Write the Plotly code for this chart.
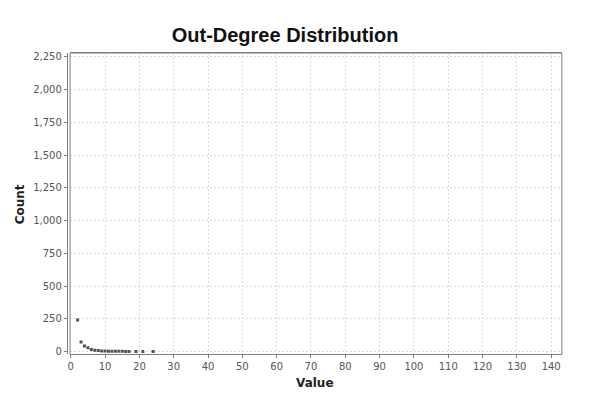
import plotly.graph_objects as go

# Out-degree distribution: node count for each out-degree value
degree = [2, 3, 4, 5, 6, 7, 8, 9, 10, 11, 12, 13, 14, 15, 16, 17, 19, 21, 24]
count = [241, 72, 42, 28, 16, 9, 7, 5, 4, 3, 3, 2, 2, 2, 1, 1, 1, 1, 1]

x_ticks = list(range(0, 141, 10))
y_ticks = list(range(0, 2251, 250))

W, H = 600, 396
# plot-area edges in pixels
left, right, top, bottom = 68.3, 561.7, 51.7, 357.0

tick_font = dict(family="DejaVu Sans", size=10, color="#555555")
grid_color = "#d9d9d9"

fig = go.Figure(
    go.Scatter(
        x=degree,
        y=count,
        mode="markers",
        marker=dict(symbol="square", size=3, color="#555555", line=dict(width=0)),
        hoverinfo="x+y",
    )
)

fig.update_layout(
    width=W,
    height=H,
    margin=dict(l=0, r=0, t=0, b=0),
    paper_bgcolor="white",
    plot_bgcolor="white",
    showlegend=False,
    title=dict(
        text="<b>Out-Degree Distribution</b>",
        font=dict(family="Liberation Sans", size=20, color="#111111"),
        x=284 / W,
        xanchor="center",
        y=1 - 33 / H,
        yanchor="middle",
        xref="paper",
        yref="paper",
    ),
    xaxis=dict(
        domain=[left / W, right / W],
        range=[-0.2, 143.1],
        tickvals=x_ticks,
        ticktext=[str(v) for v in x_ticks],
        tickfont=tick_font,
        ticks="outside",
        ticklen=3,
        tickcolor="#808080",
        showline=True,
        linecolor="#808080",
        linewidth=1,
        mirror=True,
        showgrid=True,
        gridcolor=grid_color,
        griddash="2px,2px",
        gridwidth=1,
        zeroline=False,
        anchor="y",
    ),
    yaxis=dict(
        domain=[1 - bottom / H, 1 - top / H],
        range=[-22.6, 2280],
        tickvals=y_ticks,
        tickformat=",d",
        tickfont=tick_font,
        ticks="outside",
        ticklen=3,
        tickcolor="#808080",
        showline=True,
        linecolor="#808080",
        linewidth=1,
        showgrid=True,
        gridcolor=grid_color,
        griddash="2px,2px",
        gridwidth=1,
        zeroline=False,
        anchor="free",
        position=65 / W,
    ),
    shapes=[
        # plot-area frame
        dict(
            type="rect",
            xref="paper",
            yref="paper",
            x0=left / W,
            x1=right / W,
            y0=1 - bottom / H,
            y1=1 - top / H,
            line=dict(color="#808080", width=1),
            fillcolor="rgba(0,0,0,0)",
            layer="above",
        )
    ],
    annotations=[
        dict(
            text="<b>Value</b>",
            xref="paper",
            yref="paper",
            x=314 / W,
            y=1 - 386 / H,
            xanchor="center",
            yanchor="middle",
            showarrow=False,
            font=dict(family="DejaVu Sans", size=12, color="#222222"),
        ),
        dict(
            text="<b>Count</b>",
            xref="paper",
            yref="paper",
            x=18 / W,
            y=1 - 205 / H,
            xanchor="center",
            yanchor="middle",
            textangle=-90,
            showarrow=False,
            font=dict(family="DejaVu Sans", size=12, color="#222222"),
        ),
    ],
)

fig.write_html("out.html")
